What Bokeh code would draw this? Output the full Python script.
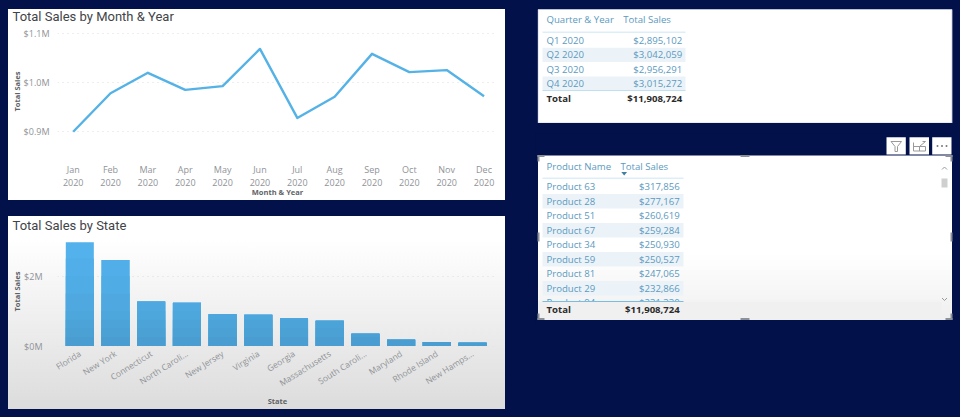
from bokeh.plotting import figure
from bokeh.layouts import row, column
from bokeh.models import Range1d, Title, FixedTicker
from bokeh.core.properties import value
from bokeh.embed import file_html
from bokeh.resources import INLINE

months = ["Jan", "Feb", "Mar", "Apr", "May", "Jun", "Jul", "Aug", "Sep", "Oct", "Nov", "Dec"]
month_year = [m + "\n2020" for m in months]
month_sales = [0.900, 0.978, 1.0195, 0.985, 0.9925, 1.068, 0.928, 0.971, 1.058, 1.021, 1.025, 0.972]

states = ["Florida", "New York", "Connecticut", "North Caroli...", "New Jersey", "Virginia",
          "Georgia", "Massachusetts", "South Caroli...", "Maryland", "Rhode Island", "New Hamps..."]
state_sales = [2.967, 2.455, 1.27, 1.24, 0.91, 0.89, 0.796, 0.72, 0.35, 0.18, 0.114, 0.095]

quarters = ["Q1 2020", "Q2 2020", "Q3 2020", "Q4 2020"]
quarter_sales = ["$2,895,102", "$3,042,059", "$2,956,291", "$3,015,272"]
products = ["Product 63", "Product 28", "Product 51", "Product 67", "Product 34",
            "Product 59", "Product 81", "Product 29", "Product 94"]
product_sales = ["$317,856", "$277,167", "$260,619", "$259,284", "$250,930",
                 "$250,527", "$247,065", "$232,866", "$231,330"]
total_sales = "$11,908,724"

NAVY = "#02114a"
TITLE = "#3f4448"
TICK = "#8f9397"
AXIS = "#5f6367"
BLUE = "#5b9ac0"
FONT = "Open Sans"
TITLE_FONT = "Roboto"


def base_chart(w, h, left, right, top, bottom, text, standoff, css):
    p = figure(width=w, height=h, output_backend="svg", toolbar_location=None,
               min_border_left=left, min_border_right=right,
               min_border_top=top, min_border_bottom=bottom)
    p.title = Title(text=text, offset=-45, standoff=standoff, text_font=TITLE_FONT, text_font_size="13px",
                    text_color=TITLE, text_font_style="normal", text_line_height=1.0)
    p.outline_line_color = None
    p.background_fill_alpha = 0
    p.border_fill_alpha = 0
    p.styles = {"background": css}
    p.xgrid.visible = False
    p.ygrid.grid_line_color = "#dddddd"
    p.ygrid.grid_line_dash = "1 4"
    p.ygrid.grid_line_width = 1
    for ax in (p.xaxis[0], p.yaxis[0]):
        ax.axis_line_color = None
        ax.major_tick_line_color = None
        ax.minor_tick_line_color = None
        ax.major_label_text_color = TICK
        ax.major_label_text_font = FONT
        ax.major_label_text_font_size = "9px"
        ax.axis_label_text_color = AXIS
        ax.axis_label_text_font = FONT
        ax.axis_label_text_font_style = "bold"
        ax.axis_label_text_font_size = "7.5px"
    return p


# ---------- line chart (canvas starts above the white panel to give the title room)
line = base_chart(497, 197, 49, 8, 22, 42, "Total Sales by Month & Year", 4,
                  f"linear-gradient(to bottom, {NAVY} 0, {NAVY} 6px, #ffffff 6px, #ffffff 100%)")
line.margin = (3, 0, 0, 8)
line.x_range = Range1d(-0.42, 11.36)
line.y_range = Range1d(0.8477, 1.1155)
line.line(list(range(12)), month_sales, line_color="#55b2e6", line_width=2.4, line_join="round")
line.xaxis[0].ticker = FixedTicker(ticks=list(range(12)))
line.xaxis[0].major_label_overrides = {i: t for i, t in enumerate(month_year)}
line.xaxis[0].major_label_standoff = -1
line.xaxis[0].major_label_text_line_height = 1.05
line.xaxis[0].axis_label = "Month & Year"
line.xaxis[0].axis_label_standoff = -5
line.yaxis[0].ticker = FixedTicker(ticks=[0.9, 1.0, 1.1])
line.yaxis[0].major_label_overrides = {0.9: "$0.9M", 1.0: "$1.0M", 1.1: "$1.1M"}
line.yaxis[0].major_label_standoff = 2
line.yaxis[0].axis_label = "Total Sales"
line.yaxis[0].axis_label_standoff = -1

# ---------- bar chart
bar = base_chart(497, 200, 49, 8, 27, 63, "Total Sales by State", 8,
                 f"linear-gradient(to bottom, {NAVY} 0, {NAVY} 7px, #ffffff 7px, #ffffff 31px, #dcdcdc 100%)")
bar.margin = (9, 0, 0, 8)
bar.x_range = Range1d(-0.625, 11.70)
bar.y_range = Range1d(-0.014, 3.13)
# bars shade slightly from light at the top to darker at the base
bands = [3.0, 2.5, 2.0, 1.5, 1.0, 0.75, 0.5, 0.25]
band_cols = ["#53b1ec", "#52aee8", "#50ace4", "#4fa9e0", "#4da6dc", "#4ca3d8", "#4ba0d4", "#4a9dd0"]
for b, c in zip(bands, band_cols):
    bar.vbar(x=list(range(12)), top=[min(v, b) for v in state_sales], bottom=0, width=0.785,
             fill_color=c, line_color=None)
bar.xaxis[0].ticker = FixedTicker(ticks=list(range(12)))
bar.xaxis[0].major_label_overrides = {i: t for i, t in enumerate(states)}
bar.xaxis[0].major_label_orientation = 0.56
bar.xaxis[0].major_label_text_font_size = "8.5px"
bar.xaxis[0].major_label_standoff = 0
bar.xaxis[0].axis_label = "State"
bar.xaxis[0].axis_label_standoff = 0
bar.yaxis[0].ticker = FixedTicker(ticks=[0, 2])
bar.yaxis[0].major_label_overrides = {0: "$0M", 2: "$2M"}
bar.yaxis[0].major_label_standoff = 9
bar.yaxis[0].axis_label = "Total Sales"
bar.yaxis[0].axis_label_standoff = -1


def table_fig(w, h, x0, y0):
    """Figure whose data space equals page pixels, for the table panels."""
    p = figure(width=w, height=h, output_backend="svg", toolbar_location=None,
               x_range=Range1d(x0, x0 + w), y_range=Range1d(y0 + h, y0),
               min_border=0, background_fill_color=NAVY, border_fill_color=NAVY)
    p.axis.visible = False
    p.grid.visible = False
    p.outline_line_color = None
    return p


def txt(p, x, y, text, align="left", color=BLUE, style="normal", size="9.6px"):
    p.text([x], [y], text=[text], text_align=align, text_baseline="middle", text_color=color,
           text_font=value(FONT), text_font_size=size, text_font_style=style)


def table(p, left, num_x, head2_x, stripe_l, stripe_r, head_y, rule_y, rows_y, step,
          head1, names, vals):
    for i, (n, v) in enumerate(zip(names, vals)):
        y = rows_y + i * step
        if i % 2 == 1:
            p.quad(left=[stripe_l], right=[stripe_r], top=[y - step / 2], bottom=[y + step / 2],
                   fill_color="#ecf3f8", line_color=None)
        txt(p, left, y, n)
        txt(p, num_x, y, v, align="right")
    txt(p, left, head_y, head1)
    txt(p, head2_x, head_y, "Total Sales")
    p.segment([stripe_l], [rule_y], [stripe_r], [rule_y], line_color="#cde6f4", line_width=1)
    return p


# ---------- quarter table
t1 = table_fig(416, 115, 537, 8)
t1.margin = (8, 0, 0, 32)
t1.quad(left=[537.5], right=[951.5], top=[9], bottom=[122.5], fill_color="white", line_color="#c9cfe0", line_width=0.8)
table(t1, 546, 681.7, 622.7, 542, 685, 19.3, 31.7, 40, 14.4, "Quarter & Year", quarters, quarter_sales)
t1.segment([542], [90], [685], [90], line_color="#bfe0f2", line_width=1.2)
txt(t1, 546, 97.7, "Total", color="#2b2b2b", style="bold")
txt(t1, 681.7, 97.7, total_sales, align="right", color="#2b2b2b", style="bold")

# ---------- product table
t2 = table_fig(419, 191, 535, 133)
t2.margin = (10, 0, 0, 30)
steps = 14
shade = [255 - round(i * 15 / (steps - 1)) for i in range(steps)]
t2.quad(left=[537.5], right=[951.5], top=[155], bottom=[319], fill_color="white", line_color=None)
for i, s in enumerate(shade):
    t2.quad(left=[538], right=[951], top=[250 + i * 69 / steps], bottom=[319],
            fill_color=f"#{s:02x}{s:02x}{s:02x}", line_color=None)
table(t2, 546, 679.3, 620, 542, 683, 165.7, 177.7, 186.3, 14.5, "Product Name", products, product_sales)
# hide the clipped row beneath the total band
t2.quad(left=[538], right=[941], top=[301.5], bottom=[319], fill_color="#f0f0f0", line_color=None)
t2.segment([542], [301], [683], [301], line_color="#79bde0", line_width=1.2)
txt(t2, 546, 308.7, "Total", color="#2b2b2b", style="bold")
txt(t2, 679.3, 308.7, total_sales, align="right", color="#2b2b2b", style="bold")
t2.patch([620.8, 626.6, 623.7], [171.5, 171.5, 175], fill_color="#3f7fa6", line_color=None)
t2.quad(left=[941], right=[947], top=[178], bottom=[187], fill_color="#cfcfcf", line_color=None)
t2.multi_line([[941.5, 944, 946.5], [941.5, 944, 946.5]], [[169, 166.5, 169], [297.5, 300, 297.5]],
              line_color="#9a9a9a", line_width=1)
handle = "#8d9299"
for hx, hy in [((537, 544), (154.5, 156.5)), ((537, 539), (154.5, 161)),
               ((945, 952), (154.5, 156.5)), ((950, 952), (154.5, 161)),
               ((537, 544), (317.5, 319.5)), ((537, 539), (313, 319.5)),
               ((945, 952), (317.5, 319.5)), ((950, 952), (313, 319.5)),
               ((740, 749), (154.5, 156.5)), ((740, 749), (317.5, 319.5)),
               ((537, 539), (232, 241)), ((950, 952), (232, 241))]:
    t2.quad(left=[hx[0]], right=[hx[1]], top=[hy[0]], bottom=[hy[1]], fill_color=handle, line_color=None)
t2.quad(left=[886, 909, 931.7], right=[905.3, 928.5, 951], top=[136.7] * 3, bottom=[154] * 3,
        fill_color="white", line_color=None)
t2.patch([890.5, 901, 897, 897, 894.5, 894.5], [141, 141, 146, 151, 151, 146],
         fill_color=None, line_color="#9a9a9a", line_width=1)
t2.multi_line([[913, 913, 925, 925, 913], [913, 919, 919], [919, 925], [925, 925, 922]],
              [[142, 150.5, 150.5, 146, 146], [146, 146, 150.5], [146, 141], [141, 141, 141]],
              line_color="#9a9a9a", line_width=1)
t2.scatter([937, 941.5, 946], [145.5] * 3, size=2, fill_color="#777777", line_color=None)

left_col = column(line, bar, spacing=0)
right_col = column(t1, t2, spacing=0)
root = row(left_col, right_col, spacing=0, width=960, height=417,
           styles={"background-color": NAVY})

html = file_html(root, INLINE)
open("out.html", "w").write(html)
